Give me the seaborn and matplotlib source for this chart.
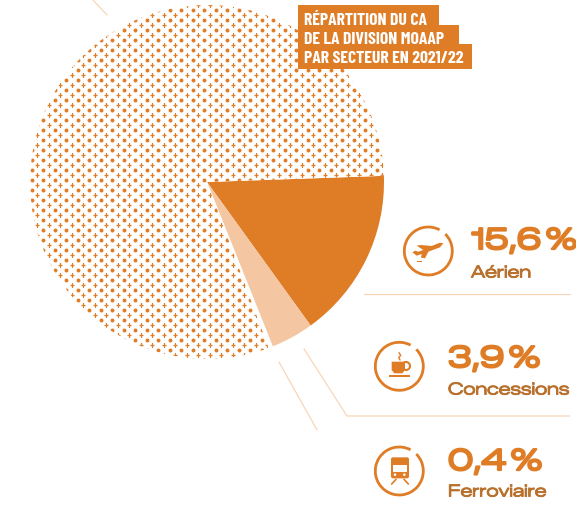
import numpy as np
import matplotlib
matplotlib.use("Agg")
import matplotlib.pyplot as plt
import matplotlib.patheffects as pe
from matplotlib.patches import Arc, Polygon, Rectangle, FancyBboxPatch, Circle
import seaborn as sns

# Data
sectors = ["Aérien", "Concessions", "Ferroviaire", "Autres"]
shares = [15.6, 3.9, 0.4, 80.1]
value_labels = ["15,6 %", "3,9 %", "0,4 %"]
title_lines = ["RÉPARTITION DU CA", "DE LA DIVISION MOAAP", "PAR SECTEUR EN 2021/22"]

ORANGE = "#DF7C26"
LIGHT = "#F4C6A2"
LINE = "#F8D6B8"
BROWN = "#B8702C"
WIDE = ["Zalando Sans Expanded", "DejaVu Sans"]
NARROW = ["Barlow Condensed", "Roboto Condensed", "DejaVu Sans"]

sns.set_theme(style="white")
plt.rcParams["font.family"] = ["DejaVu Sans"]

fig = plt.figure(figsize=(5.76, 5.09), dpi=100)
ax = fig.add_axes([0, 0, 1, 1])

wedges, _ = ax.pie(shares, colors=[ORANGE, LIGHT, "white", "white"], center=(207, 182),
                   radius=177, startangle=-2, counterclock=True,
                   wedgeprops=dict(linewidth=0))
ax.set_xlim(0, 576)
ax.set_ylim(509, 0)
ax.set_aspect("auto")
ax.axis("off")

# Dot-and-plus texture of the main wedge
xs = np.arange(20, 400, 11.5)
ys = np.arange(0, 370, 10.0)
gx, gy = np.meshgrid(xs, ys)
dots = ax.scatter(gx.ravel(), gy.ravel(), s=8, color=ORANGE, linewidths=0, zorder=2)
plus = ax.scatter(gx.ravel() + 5.75, gy.ravel() + 5, s=6, marker="+", color=ORANGE,
                  linewidths=0.9, zorder=2)
dots.set_clip_path(wedges[3])
plus.set_clip_path(wedges[3])

# Leader and separator lines
lw = 0.9
ax.plot([93, 107], [0, 15], color=LINE, lw=lw)
ax.plot([304, 347, 570], [349, 416, 416], color=LINE, lw=lw)
ax.plot([279, 317], [362, 430], color=LINE, lw=lw)
ax.plot([364, 570], [294, 294], color=LINE, lw=lw)

# Title boxes
boxes = [(298, 5, 141, 20), (298, 25, 161, 19), (298, 44, 174, 25)]
for (x, y, w, h) in boxes:
    ax.add_patch(Rectangle((x, y), w, h, facecolor=ORANGE, edgecolor="none", zorder=4))
for line, y in zip(title_lines, [20, 39, 58]):
    ax.text(304, y, line, color="white", fontsize=12.7, fontweight="bold",
            family=NARROW, va="center", ha="left", zorder=5)

# Values and names
val_pos = [(471, 241), (448, 359), (448, 462)]
name_pos = [(471, 273), (448, 390), (448, 492)]
for s, v, vp, np_ in zip(sectors[:3], value_labels, val_pos, name_pos):
    ax.text(vp[0], vp[1], v.replace(" ", "\u200a"), color=ORANGE, fontsize=21, fontweight="bold",
            family=WIDE, va="center", ha="left",
            path_effects=[pe.withStroke(linewidth=1.6, foreground=ORANGE)])
    ax.text(np_[0], np_[1], s, color=BROWN, fontsize=12, fontweight="bold",
            family=WIDE, va="center", ha="left",
            path_effects=[pe.withStroke(linewidth=0.6, foreground=BROWN)])

# Icons
def z(pts):
    a = np.asarray(pts, float)
    return np.column_stack([360 + a[:, 0] / 3, 210 + a[:, 1] / 3])

for c in [(428.3, 251), (399.3, 366.3), (399.3, 471)]:
    ax.add_patch(Arc(c, 48, 48, theta1=-45, theta2=298, color=ORANGE, lw=2))

# Plane
ax.add_patch(Polygon(z([(250, 100), (240, 112), (205, 125), (195, 145), (183, 143), (185, 132),
                        (170, 137), (157, 127), (165, 122), (175, 125), (190, 120), (170, 107),
                        (182, 105), (215, 108), (240, 98)]), closed=True, fc=ORANGE, ec="none"))
ax.add_patch(Polygon(z([(170, 153), (186, 153), (186, 157), (170, 157)]), closed=True, fc=ORANGE, ec="none"))

# Cup
ax.add_patch(Polygon(z([(95, 455), (135, 455), (135, 480), (127, 490), (103, 490), (95, 480)]),
                     closed=True, fc=ORANGE, ec="none"))
hc = z([(138, 468)])[0]
ax.add_patch(Circle(hc, 4, fc="none", ec=ORANGE, lw=1.5))
ax.add_patch(Polygon(z([(87, 495), (150, 495), (150, 500), (87, 500)]), closed=True, fc=ORANGE, ec="none"))
st = z([(117, 428), (122, 436), (116, 443), (120, 450)])
ax.plot(st[:, 0], st[:, 1], color=ORANGE, lw=1)

# Train
t = z([(93, 742)])[0]
ax.add_patch(FancyBboxPatch((t[0] + 2, t[1] + 2), 14, 17, boxstyle="round,pad=2", fc=ORANGE, ec="none"))
w = z([(100, 765)])[0]
ax.add_patch(Rectangle(w, 13.5, 6.5, fc="white", ec="none"))
for p in [(105, 794), (133, 794)]:
    ax.add_patch(Circle(z([p])[0], 1.3, fc="white", ec="none"))
for seg in [[(95, 822), (108, 808)], [(145, 822), (132, 808)]]:
    s_ = z(seg)
    ax.plot(s_[:, 0], s_[:, 1], color=ORANGE, lw=1.2)

fig.savefig("out.png", dpi=100, facecolor="white")
